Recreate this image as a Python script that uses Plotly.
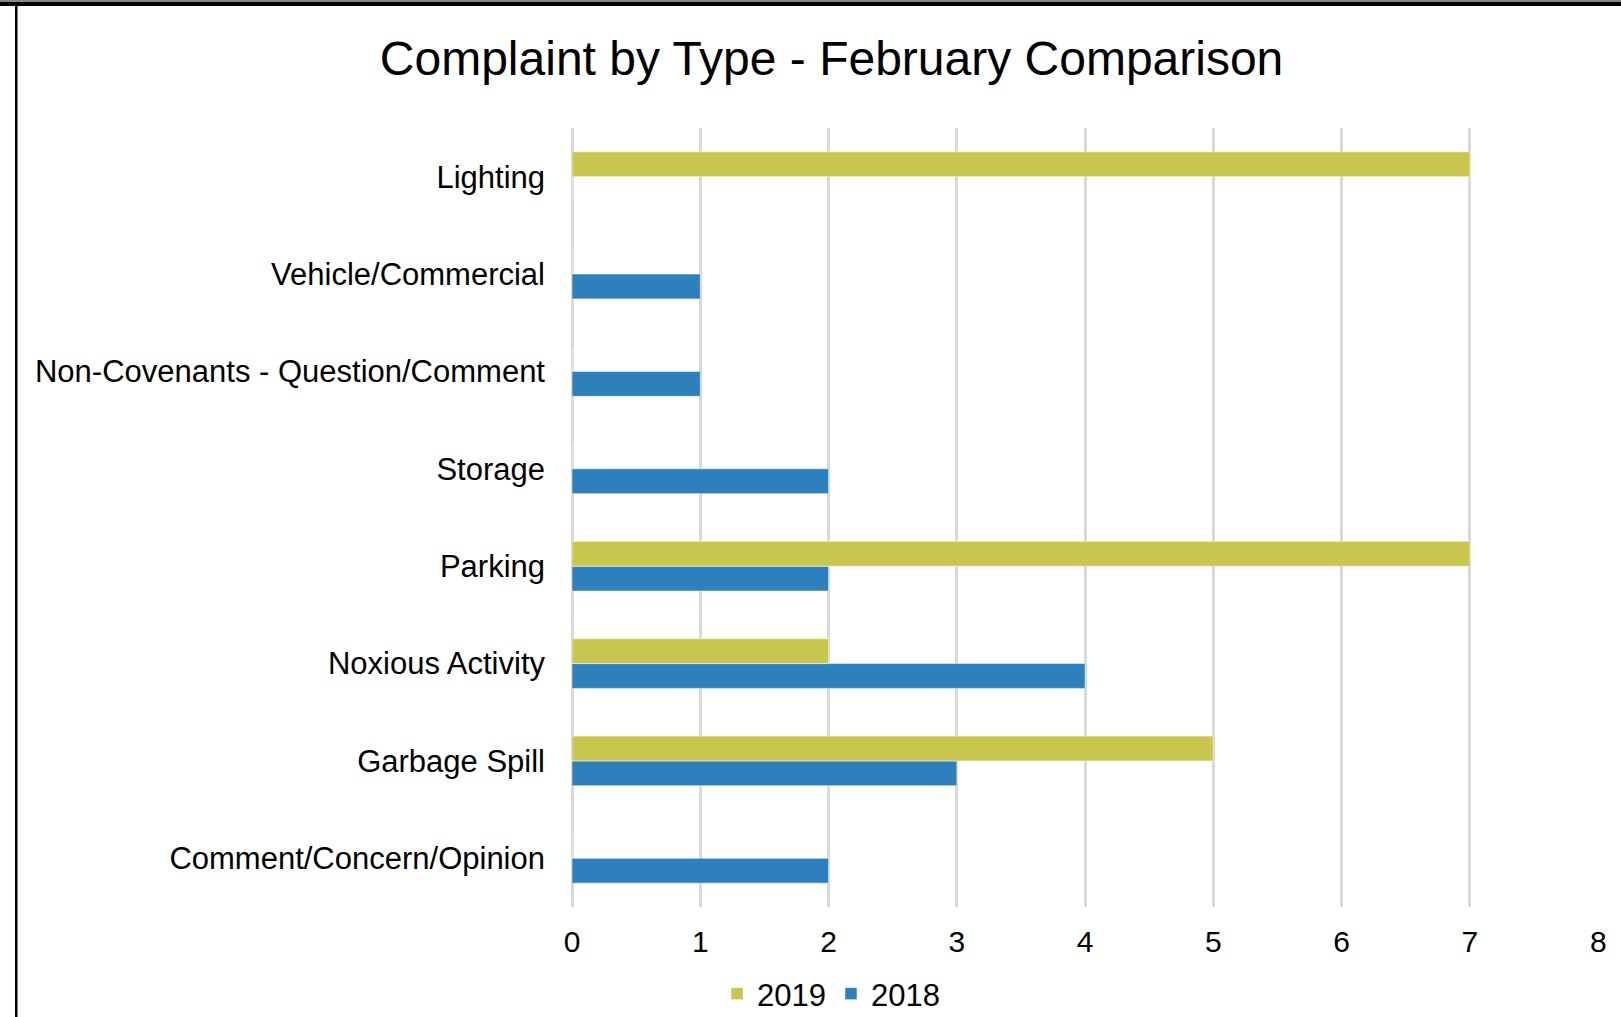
import plotly.graph_objects as go

categories = ["Comment/Concern/Opinion", "Garbage Spill", "Noxious Activity", "Parking",
              "Storage", "Non-Covenants - Question/Comment", "Vehicle/Commercial", "Lighting"]
values_2018 = [2, 3, 4, 2, 2, 1, 1, 0]
values_2019 = [0, 5, 2, 7, 0, 0, 0, 7]
x_ticks = [0, 1, 2, 3, 4, 5, 6, 7, 8]

W, H = 1621, 1017
L, R, T, B = 572, 22, 128, 110
pw, ph = W - L - R, H - T - B

def px_x(p):
    return (p - L) / pw

def px_y(p):
    return 1 - (p - T) / ph

fig = go.Figure()
fig.add_trace(go.Bar(y=categories, x=values_2018, name="2018", orientation="h",
                     marker=dict(color="#2E80BD", line=dict(color="rgba(255,255,255,0.5)", width=1))))
fig.add_trace(go.Bar(y=categories, x=values_2019, name="2019", orientation="h",
                     marker=dict(color="#C9C64E", line=dict(color="rgba(255,255,255,0.5)", width=1))))

font_family = "Liberation Sans, Arial, sans-serif"
fig.update_layout(
    width=W, height=H,
    margin=dict(l=L, r=R, t=T, b=B, pad=0, autoexpand=False),
    paper_bgcolor="white", plot_bgcolor="white",
    barmode="group", bargap=0.49, bargroupgap=0,
    font=dict(family=font_family, color="#000000"),
    title=dict(text="Complaint by Type - February Comparison", x=0.513, xanchor="center",
               y=1 - 58 / H, yanchor="middle", font=dict(size=48, family=font_family, color="#000000")),
    xaxis=dict(range=[0, 8.006], tickvals=x_ticks, showgrid=True, gridcolor="#D9D9D9", gridwidth=2.5,
               zeroline=True, zerolinecolor="#D9D9D9", zerolinewidth=2.5,
               showline=False, ticks="", tickfont=dict(size=30), ticklabelstandoff=14),
    yaxis=dict(type="category", categoryorder="array", categoryarray=categories,
               showgrid=False, showline=False, ticks="", tickfont=dict(size=31),
               ticklabelstandoff=26),
    legend=dict(orientation="h", x=px_x(831), xanchor="center", y=px_y(994), yanchor="middle",
                traceorder="reversed", font=dict(size=31), itemwidth=30),
    shapes=[
        dict(type="rect", xref="paper", yref="paper", x0=px_x(0), x1=px_x(W), y0=px_y(0), y1=px_y(2),
             line=dict(width=0), fillcolor="#888888"),
        dict(type="rect", xref="paper", yref="paper", x0=px_x(0), x1=px_x(W), y0=px_y(2), y1=px_y(6),
             line=dict(width=0), fillcolor="black"),
        dict(type="rect", xref="paper", yref="paper", x0=px_x(15), x1=px_x(17.5), y0=px_y(2), y1=px_y(H),
             line=dict(width=0), fillcolor="black"),
    ],
)

fig.write_html("out.html", config={"displayModeBar": False},
               post_script="document.body.style.margin='0';")
